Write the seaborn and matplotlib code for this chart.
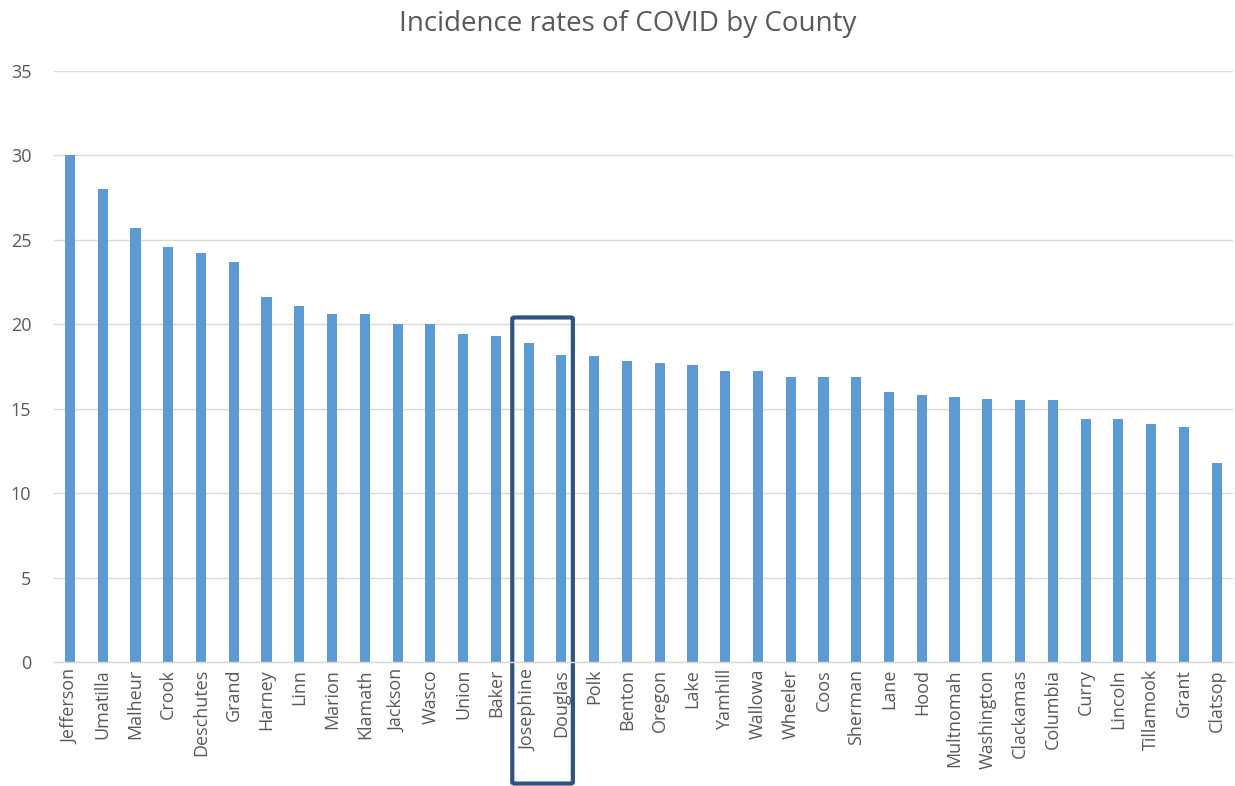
import matplotlib
matplotlib.use("Agg")
import matplotlib.pyplot as plt
import seaborn as sns
import pandas as pd
from matplotlib.patches import FancyBboxPatch

counties = ["Jefferson", "Umatilla", "Malheur", "Crook", "Deschutes", "Grand", "Harney",
            "Linn", "Marion", "Klamath", "Jackson", "Wasco", "Union", "Baker", "Josephine",
            "Douglas", "Polk", "Benton", "Oregon", "Lake", "Yamhill", "Wallowa", "Wheeler",
            "Coos", "Sherman", "Lane", "Hood", "Multnomah", "Washington", "Clackamas",
            "Columbia", "Curry", "Lincoln", "Tillamook", "Grant", "Clatsop"]
rates = [30.0, 28.0, 25.7, 24.6, 24.2, 23.7, 21.6, 21.1, 20.6, 20.6, 20.0, 20.0, 19.4, 19.3,
         18.9, 18.2, 18.1, 17.8, 17.7, 17.6, 17.2, 17.2, 16.9, 16.9, 16.9, 16.0, 15.8, 15.7,
         15.6, 15.5, 15.5, 14.4, 14.4, 14.1, 13.9, 11.8]
highlighted = ["Josephine", "Douglas"]

sns.set_theme(style="white")
plt.rcParams['font.family'] = ['Open Sans', 'DejaVu Sans']

df = pd.DataFrame({'County': counties, 'Rate': rates})

fig = plt.figure(figsize=(12.35, 7.86), dpi=100)
ax = fig.add_axes([0.0434, 0.1578, 0.955, 0.752])

sns.barplot(data=df, x='County', y='Rate', color='#5B9BD5', saturation=1,
            width=0.31, ax=ax, edgecolor='none')

ax.set_xlim(-0.5, len(counties) - 0.5)
ax.set_ylim(0, 35)
ax.set_yticks(range(0, 36, 5))
ax.yaxis.grid(True, color='#D9D9D9', linewidth=1)
ax.set_axisbelow(True)
for s in ['top', 'right', 'left']:
    ax.spines[s].set_visible(False)
ax.spines['bottom'].set_color('#D9D9D9')
ax.spines['bottom'].set_linewidth(1)
ax.tick_params(axis='both', length=0, colors='#595959', labelsize=13)
ax.tick_params(axis='y', pad=16)
ax.tick_params(axis='x', pad=5)
plt.setp(ax.get_xticklabels(), rotation=90)
ax.set_xlabel('')
ax.set_ylabel('')

fig.text(0.508, 0.970, 'Incidence rates of COVID by County', ha='center', va='center',
         fontsize=20, color='#595959')

# highlight box around the two counties
i0 = counties.index(highlighted[0])
i1 = counties.index(highlighted[1])
box = FancyBboxPatch((i0 - 0.5, -7.2), (i1 - i0) + 0.85, 27.6,
                     boxstyle='round,pad=0,rounding_size=0.08', fill=False,
                     edgecolor='#2F5383', linewidth=3, clip_on=False,
                     transform=ax.transData, mutation_aspect=1)
ax.add_patch(box)

fig.savefig('out.png', dpi=100)
